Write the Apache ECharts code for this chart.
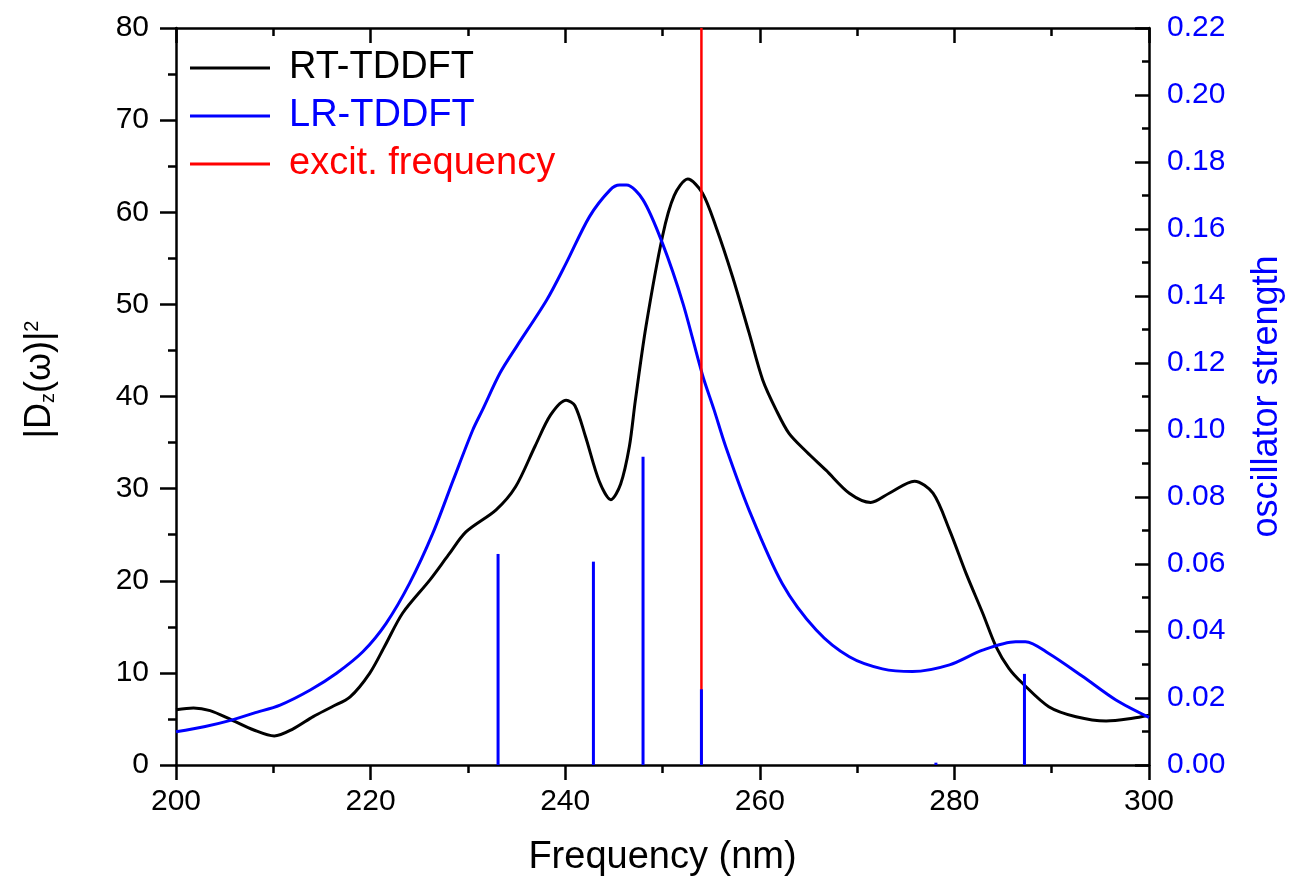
<!DOCTYPE html>
<html>
<head>
<meta charset="utf-8">
<script src="https://cdn.jsdelivr.net/npm/echarts@6/dist/echarts.min.js"></script>
<style>
  html, body { margin: 0; padding: 0; background: #fff; }
  #chart { width: 1293px; height: 883px; }
</style>
</head>
<body>
<div id="chart"></div>
<script>
// RT-TDDFT |Dz(w)|^2 spectrum: [wavelength nm, value]
const rtX = [200, 201.8, 203.5, 205.7, 208, 210.1, 212, 214.1, 216, 217.9, 219.9, 221.5, 223.3, 226.1, 228, 229.8,
  232.9, 234.9, 236.9, 238.5, 240.1, 241, 242.1, 243.5, 244.7, 245.7, 246.6, 247.2, 248.3, 250, 251.2, 252.6,
  254.1, 255.5, 257.2, 258.9, 260.3, 261.7, 263, 264.8, 266.8, 269.2, 271.4, 273.3, 275.9, 277.8, 279.5,
  281.2, 282.9, 284.3, 285.6, 287, 289.7, 292.5, 295.6, 298.3, 300];
const rtY = [6.0, 6.2, 5.9, 4.9, 3.8, 3.15, 3.9, 5.25, 6.3, 7.4, 9.95, 13.0, 16.5, 20.1, 22.8, 25.3,
  27.7, 30.2, 34.6, 38.0, 39.6, 39.0, 35.6, 30.8, 28.8, 30.5, 34.6, 39.5, 47.6, 57.4, 61.8, 63.6,
  62.1, 58.4, 53.0, 46.9, 41.8, 38.5, 36.0, 34.0, 32.0, 29.5, 28.5, 29.5, 30.8, 29.5, 25.5,
  20.8, 16.5, 12.8, 10.5, 8.87, 6.33, 5.24, 4.78, 5.07, 5.4];

// LR-TDDFT broadened spectrum (oscillator strength axis)
const lrX = [200, 203, 205.7, 208, 210.7, 213.8, 216.5, 219.2, 221.6, 224, 226.4, 228.5, 230.5, 231.5, 233.3,
  235, 238.1, 240.1, 242.5, 244.6, 245.6, 246.3, 248, 250, 252.1, 254.1, 255.3, 256.5, 258.9, 262.3,
  265.8, 269.2, 272.6, 275.7, 279.5, 282.9, 286.3, 287.3, 289.7, 293.2, 296.6, 300];
const lrY = [0.0099, 0.0115, 0.0134, 0.0155, 0.0179, 0.0224, 0.0274, 0.0338, 0.0423, 0.0542, 0.0692, 0.0851, 0.100, 0.106, 0.117,
  0.1249, 0.1388, 0.1498, 0.1637, 0.1716, 0.1731, 0.1731, 0.1687, 0.1557, 0.1378, 0.1165, 0.106, 0.095, 0.0761, 0.0542,
  0.0403, 0.0323, 0.0287, 0.0279, 0.0299, 0.0343, 0.0368, 0.0368, 0.0333, 0.0264, 0.0194, 0.0142];

// LR-TDDFT stick transitions
const stickX = [233.1, 242.9, 248.0, 254.0, 278.1, 287.2];
const stickY = [0.063, 0.0607, 0.092, 0.0226, 0.0007, 0.0272];

// excitation frequency
const excitX = 254;

const FONT = "'Liberation Sans', Arial, sans-serif";
const BLUE = "#0000ff";
const AXIS_W = 2.5;

const zip = (xs, ys) => xs.map((x, i) => [x, ys[i]]);

const myChart = echarts.init(document.getElementById("chart"));

const option = {
  backgroundColor: "#fff",
  animation: false,
  textStyle: { fontFamily: FONT },
  grid: { left: 176, right: 143, top: 28, bottom: 118 },
  legend: {
    left: 190,
    top: 49,
    padding: 0,
    orient: "vertical",
    itemWidth: 80,
    itemHeight: 3,
    itemGap: 10,
    icon: "rect",
    textStyle: { fontSize: 38, fontFamily: FONT, padding: [0, 0, 0, 14] },
    data: [
      { name: "RT-TDDFT", textStyle: { color: "#000" } },
      { name: "LR-TDDFT", textStyle: { color: BLUE } },
      { name: "excit. frequency", textStyle: { color: "#ff0000" } }
    ]
  },
  xAxis: [
    {
      type: "value",
      min: 200,
      max: 300,
      interval: 20,
      position: "bottom",
      name: "Frequency (nm)",
      nameLocation: "middle",
      nameGap: 74,
      nameTextStyle: { fontSize: 38, color: "#000", fontFamily: FONT },
      axisLine: { onZero: false, lineStyle: { color: "#000", width: AXIS_W } },
      axisTick: { length: 15, lineStyle: { color: "#000", width: AXIS_W } },
      minorTick: { show: true, splitNumber: 2, length: 8, lineStyle: { color: "#000", width: AXIS_W } },
      axisLabel: { fontSize: 30, color: "#000", margin: 22, fontFamily: FONT },
      splitLine: { show: false }
    },
    {
      type: "value",
      min: 200,
      max: 300,
      interval: 20,
      position: "top",
      axisLine: { onZero: false, lineStyle: { color: "#000", width: AXIS_W } },
      axisTick: { inside: true, length: 15, lineStyle: { color: "#000", width: AXIS_W } },
      minorTick: { show: true, splitNumber: 2, length: 8, lineStyle: { color: "#000", width: AXIS_W } },
      axisLabel: { show: false },
      splitLine: { show: false }
    }
  ],
  yAxis: [
    {
      type: "value",
      min: 0,
      max: 80,
      interval: 10,
      position: "left",
      name: "|D{sub|z}(ω)|{sup|2}",
      nameLocation: "middle",
      nameGap: 118,
      nameTextStyle: {
        fontSize: 36,
        color: "#000",
        fontFamily: FONT,
        padding: [0, 0, 0, 34],
        rich: {
          sub: { fontSize: 20, verticalAlign: "bottom", fontFamily: FONT, color: "#000" },
          sup: { fontSize: 20, verticalAlign: "top", fontFamily: FONT, color: "#000" }
        }
      },
      axisLine: { show: true, onZero: false, lineStyle: { color: "#000", width: AXIS_W } },
      axisTick: { show: true, length: 16, lineStyle: { color: "#000", width: AXIS_W } },
      minorTick: { show: true, splitNumber: 2, length: 8, lineStyle: { color: "#000", width: AXIS_W } },
      axisLabel: { fontSize: 30, color: "#000", margin: 27, fontFamily: FONT },
      splitLine: { show: false }
    },
    {
      type: "value",
      min: 0,
      max: 0.22,
      interval: 0.02,
      position: "right",
      name: "oscillator strength",
      nameLocation: "middle",
      nameRotate: 90,
      nameGap: 100,
      nameTextStyle: { fontSize: 36, color: BLUE, fontFamily: FONT },
      axisLine: { show: true, onZero: false, lineStyle: { color: "#000", width: AXIS_W } },
      axisTick: { show: true, inside: true, length: 14, lineStyle: { color: "#000", width: AXIS_W } },
      minorTick: { show: true, splitNumber: 2, length: 7, lineStyle: { color: "#000", width: AXIS_W } },
      axisLabel: {
        fontSize: 30,
        color: BLUE,
        margin: 18,
        fontFamily: FONT,
        formatter: function (v) { return v.toFixed(2); }
      },
      splitLine: { show: false }
    }
  ],
  series: [
    {
      name: "RT-TDDFT",
      type: "line",
      xAxisIndex: 0,
      yAxisIndex: 0,
      smooth: 0.3,
      showSymbol: false,
      symbol: "none",
      color: "#000",
      lineStyle: { color: "#000", width: 3 },
      data: zip(rtX, rtY)
    },
    {
      name: "LR-TDDFT",
      type: "line",
      xAxisIndex: 0,
      yAxisIndex: 1,
      smooth: 0.3,
      showSymbol: false,
      symbol: "none",
      color: BLUE,
      lineStyle: { color: BLUE, width: 3 },
      data: zip(lrX, lrY)
    },
    {
      name: "excit. frequency",
      type: "line",
      xAxisIndex: 0,
      yAxisIndex: 0,
      z: 3,
      showSymbol: false,
      symbol: "none",
      color: "#ff0000",
      lineStyle: { color: "#ff0000", width: 2.5 },
      data: [[excitX, 0], [excitX, 80]]
    },
    {
      // stick spectrum, drawn as thin vertical lines through the axes
      name: "sticks",
      type: "custom",
      xAxisIndex: 0,
      yAxisIndex: 1,
      z: 4,
      encode: { x: 0, y: 1 },
      renderItem: function (params, api) {
        const p0 = api.coord([api.value(0), 0]);
        const p1 = api.coord([api.value(0), api.value(1)]);
        return {
          type: "line",
          shape: { x1: p0[0], y1: p0[1], x2: p1[0], y2: p1[1] },
          style: { stroke: BLUE, lineWidth: 3 }
        };
      },
      data: zip(stickX, stickY)
    }
  ]
};

myChart.setOption(option);
window.addEventListener("resize", function () {
  myChart.resize();
});
</script>
</body>
</html>
